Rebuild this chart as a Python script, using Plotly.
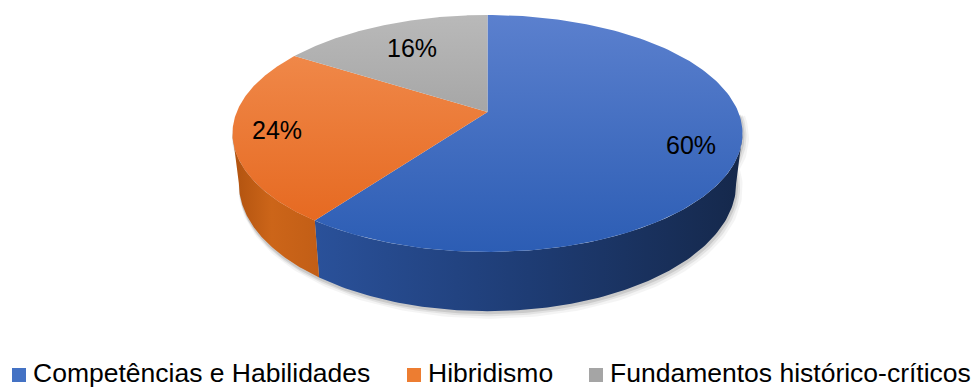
import numpy as np
import plotly.graph_objects as go

# Distribution of approaches (percent)
categories = ["Competências e Habilidades", "Hibridismo", "Fundamentos histórico-críticos"]
values = [60, 24, 16]

# Colour scheme per slice: top face (light -> dark, vertical) and side wall (horizontal)
top_colors = [("#5b80ce", "#2c5db4"), ("#f28f52", "#e4641a"), ("#b9b9b9", "#8b8b8b")]
side_colors = [
    [[0, "#2a519a"], [0.5, "#1e3c74"], [1, "#15284b"]],
    [[0, "#b0520f"], [0.45, "#cc6519"], [1, "#c25e16"]],
    [[0, "#8a8a8a"], [1, "#6e6e6e"]],
]
legend_colors = ["#4472c4", "#ed7d31", "#a5a5a5"]

FONT = "Liberation Sans, Arial, sans-serif"

# Perspective disc projection (screen pixels)
CX, CY = 487.5, 112.0   # projected disc centre
S, T = 250.8, 114.6     # horizontal / depth scale
K = 0.181               # perspective strength
H = 48.5                # wall height
SHRINK = 0.975          # convergence of the lower rim


def proj(phi_deg, r=1.0, lower=False):
    phi = np.radians(phi_deg)
    u = r * np.sin(phi)
    v = r * np.cos(phi)
    w = 1 + K * v
    x = CX + S * u / w
    y = CY - T * v / w
    if lower:
        x = CX + (x - CX) * SHRINK
        y = y + H / w
    return x, y


total = sum(values)
bounds = np.concatenate([[0], np.cumsum(values) / total * 360.0])
PHI_R = np.degrees(np.arccos(-K))
PHI_L = 360.0 - PHI_R

fig = go.Figure()

# soft drop shadow along the lower rim
rim = np.linspace(PHI_R - 10, PHI_L + 5, 200)
rx, ry = proj(rim, lower=True)
ux, uy = proj(rim[::-1])
sx = np.concatenate([rx, ux])
sy = np.concatenate([ry, uy])
for (dx, dy, lw, op) in [(3, 4, 7, 0.05), (2, 3, 4, 0.09), (1, 2, 2, 0.14)]:
    fig.add_trace(go.Scatter(
        x=sx + dx, y=sy + dy, mode="lines", fill="toself",
        fillcolor="rgb(60,60,60)", line=dict(color="rgb(60,60,60)", width=lw),
        opacity=op, hoverinfo="skip", showlegend=False))

# side walls (front half only)
for i in range(len(values)):
    a0, a1 = max(bounds[i], PHI_R), min(bounds[i + 1], PHI_L)
    if a1 <= a0:
        continue
    arc = np.linspace(a0, a1, 120)
    xt, yt = proj(arc)
    xb, yb = proj(arc[::-1], lower=True)
    xx = np.concatenate([xt, xb, xt[:1]])
    yy = np.concatenate([yt, yb, yt[:1]])
    fig.add_trace(go.Scatter(
        x=xx, y=yy, mode="lines", fill="toself", line=dict(width=0),
        fillgradient=dict(type="horizontal", colorscale=side_colors[i],
                          start=float(xx.min()), stop=float(xx.max())),
        hoverinfo="skip", showlegend=False))

# top faces
for i in range(len(values)):
    arc = np.linspace(bounds[i], bounds[i + 1], 160)
    xa, ya = proj(arc)
    xx = np.concatenate([[CX], xa, [CX]])
    yy = np.concatenate([[CY], ya, [CY]])
    c0, c1 = top_colors[i]
    fig.add_trace(go.Scatter(
        x=xx, y=yy, mode="lines", fill="toself", line=dict(width=0),
        fillgradient=dict(type="vertical", colorscale=[[0, c0], [1, c1]],
                          start=15, stop=252),
        hoverinfo="skip", showlegend=False))

# percentage labels
label_pos = [(691, 145), (277, 130), (412, 48)]
for v, (lx, ly) in zip(values, label_pos):
    fig.add_annotation(x=lx, y=ly, text=f"{v}%", showarrow=False,
                       font=dict(family=FONT, size=25, color="#000000"),
                       xanchor="center", yanchor="middle")

# legend
legend_x = [12, 407, 589]
shapes = []
for name, col, lx in zip(categories, legend_colors, legend_x):
    shapes.append(dict(type="rect", x0=lx, x1=lx + 14, y0=368, y1=382,
                       fillcolor=col, line=dict(width=0), layer="above"))
    fig.add_annotation(x=lx + 20, y=389, text=name, showarrow=False,
                       font=dict(family=FONT, size=26.5, color="#000000"),
                       xanchor="left", yanchor="bottom", borderpad=0)

fig.update_layout(
    width=975, height=389,
    margin=dict(l=0, r=0, t=0, b=0),
    paper_bgcolor="white", plot_bgcolor="white",
    xaxis=dict(range=[0, 975], visible=False, fixedrange=True),
    yaxis=dict(range=[389, 0], visible=False, fixedrange=True),
    shapes=shapes,
    showlegend=False,
)

fig.write_html("out.html")
